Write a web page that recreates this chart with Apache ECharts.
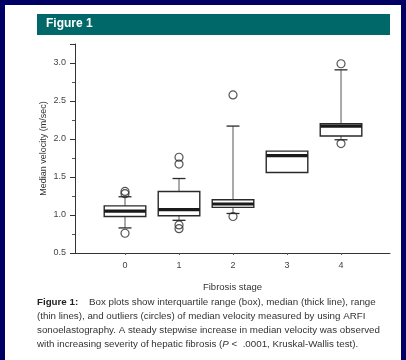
<!DOCTYPE html>
<html>
<head>
<meta charset="utf-8">
<script src="https://cdn.jsdelivr.net/npm/echarts@6/dist/echarts.min.js"></script>
<style>
html,body{margin:0;padding:0;background:#fff;}
#c{width:406px;height:360px;}
</style>
</head>
<body>
<div id="c"></div>
<script>
// ---- data ----
const stages   = [0, 1, 2, 3, 4];
const mins     = [0.83, 0.93, 1.02, 1.56, 1.99];
const q1s      = [0.98, 0.99, 1.10, 1.56, 2.04];
const medians  = [1.05, 1.07, 1.145, 1.78, 2.17];
const q3s      = [1.12, 1.31, 1.20, 1.84, 2.20];
const maxs     = [1.24, 1.48, 2.17, 1.84, 2.91];
const outlierStage = [0, 0, 0, 1, 1, 1, 1, 2, 2, 4, 4];
const outlierValue = [1.28, 1.31, 0.76, 1.76, 1.67, 0.87, 0.82, 2.58, 0.98, 2.99, 1.94];
const yMajorTicks = [0.5, 1.0, 1.5, 2.0, 2.5, 3.0, 3.25];
const yMinorTicks = [0.75, 1.25, 1.75, 2.25, 2.75];
const yLabels = ['0.5', '1.0', '1.5', '2.0', '2.5', '3.0'];
const xTicks = [0, 1, 2, 3, 4];
const xLabels = ['0', '1', '2', '3', '4'];

const boxRows = stages.map((s, i) => [s, mins[i], q1s[i], medians[i], q3s[i], maxs[i]]);
const outlierRows = outlierStage.map((s, i) => [s, outlierValue[i]]);

const BOX_W = 0.77, CAP_W = 0.24;
const INK = '#2a2a2a';
const FONT = '"Liberation Sans Narrow", "Liberation Sans", Arial, sans-serif';

function renderBox(params, api) {
  const x = api.value(0);
  const pMin = api.coord([x, api.value(1)]);
  const pQ1 = api.coord([x, api.value(2)]);
  const pMed = api.coord([x, api.value(3)]);
  const pQ3 = api.coord([x, api.value(4)]);
  const pMax = api.coord([x, api.value(5)]);
  const half = api.size([BOX_W, 0])[0] / 2;
  const capHalf = api.size([CAP_W, 0])[0] / 2;
  const cx = pMed[0];
  const ch = [];
  const lineStyle = {stroke: '#555', lineWidth: 1, fill: null};
  if (pMax[1] < pQ3[1] - 0.5) {
    ch.push({type: 'line', shape: {x1: cx, y1: pQ3[1], x2: cx, y2: pMax[1]}, style: lineStyle});
    ch.push({type: 'line', shape: {x1: cx - capHalf, y1: pMax[1], x2: cx + capHalf, y2: pMax[1]}, style: {stroke: INK, lineWidth: 1.3}});
  }
  if (pMin[1] > pQ1[1] + 0.5) {
    ch.push({type: 'line', shape: {x1: cx, y1: pQ1[1], x2: cx, y2: pMin[1]}, style: lineStyle});
    ch.push({type: 'line', shape: {x1: cx - capHalf, y1: pMin[1], x2: cx + capHalf, y2: pMin[1]}, style: {stroke: INK, lineWidth: 1.3}});
  }
  ch.push({type: 'rect', shape: {x: cx - half, y: pQ3[1], width: half * 2, height: pQ1[1] - pQ3[1]},
           style: {fill: '#fff', stroke: INK, lineWidth: 1.4}});
  ch.push({type: 'rect', shape: {x: cx - half, y: pMed[1] - 1.6, width: half * 2, height: 3.2},
           style: {fill: '#1a1a1a'}});
  return {type: 'group', children: ch};
}

const chart = echarts.init(document.getElementById('c'), null, {renderer: 'canvas'});
const axisFont = {color: '#444', fontSize: 9, fontFamily: 'Liberation Sans, Arial, sans-serif'};

chart.setOption({
  animation: false,
  backgroundColor: '#fff',
  grid: {left: 75, top: 44, width: 315, height: 209, containLabel: false},
  xAxis: {
    type: 'value', min: -0.926, max: 4.907,
    splitLine: {show: false},
    axisLine: {show: true, onZero: false, lineStyle: {color: '#333', width: 1}},
    axisTick: {show: true, customValues: xTicks, length: 2, lineStyle: {color: '#555'}},
    axisLabel: Object.assign({customValues: xTicks, margin: 8,
      formatter: v => xLabels[xTicks.indexOf(Math.round(v))] ?? ''}, axisFont),
    name: 'Fibrosis stage', nameLocation: 'middle', nameGap: 29, nameMoveOverlap: false,
    nameTextStyle: {color: '#333', fontSize: 9.5, fontFamily: 'Liberation Sans, Arial, sans-serif'}
  },
  yAxis: [{
    type: 'value', min: 0.5, max: 3.25,
    splitLine: {show: false},
    axisLine: {show: true, onZero: false, lineStyle: {color: '#333', width: 1}},
    axisTick: {show: true, inside: false, customValues: yMajorTicks, length: 5, lineStyle: {color: '#333'}},
    axisLabel: Object.assign({customValues: yMajorTicks.slice(0, 6), margin: 9,
      formatter: v => { const k = yMajorTicks.indexOf(v); return k >= 0 && k < yLabels.length ? yLabels[k] : ''; }}, axisFont),
    name: 'Median velocity (m/sec)', nameLocation: 'middle', nameGap: 27, nameMoveOverlap: false,
    nameTextStyle: {color: '#333', fontSize: 9, fontFamily: 'Liberation Sans, Arial, sans-serif'}
  }, {
    type: 'value', min: 0.5, max: 3.25, position: 'left',
    splitLine: {show: false},
    axisLine: {show: false, onZero: false},
    axisTick: {show: true, inside: false, customValues: yMinorTicks, length: 3, lineStyle: {color: '#555'}},
    axisLabel: {show: false}
  }],
  series: [{
    type: 'custom', renderItem: renderBox, data: boxRows,
    encode: {x: 0, y: [1, 2, 3, 4, 5]}, z: 2
  }, {
    type: 'scatter', data: outlierRows, symbol: 'circle', symbolSize: 8,
    itemStyle: {color: 'rgba(0,0,0,0)', borderColor: INK, borderWidth: 1.2}, z: 3
  }],
  graphic: [
    {type: 'rect', left: 0, top: 0, shape: {width: 406, height: 5}, style: {fill: '#000064'}},
    {type: 'rect', left: 0, top: 0, shape: {width: 5, height: 360}, style: {fill: '#000064'}},
    {type: 'rect', left: 401, top: 0, shape: {width: 5, height: 360}, style: {fill: '#000064'}},
    {type: 'rect', left: 37, top: 14, shape: {width: 353, height: 21}, style: {fill: '#006869'}},
    {type: 'text', left: 46, top: 18, style: {text: 'Figure 1', fill: '#fff',
      font: 'bold 12px ' + FONT}},
    {type: 'text', left: 37, top: 295, style: {
      text: '{b|Figure 1:}    Box plots show interquartile range (box), median (thick line), range\n' +
            '(thin lines), and outliers (circles) of median velocity measured by using ARFI\n' +
            'sonoelastography. A steady stepwise increase in median velocity was observed\n' +
            'with increasing severity of hepatic fibrosis ({i|P} <  .0001, Kruskal-Wallis test).',
      fill: '#333', lineHeight: 14,
      font: '9.75px ' + FONT,
      rich: {
        b: {fontWeight: 'bold', fontSize: 9.75, fill: '#222', fontFamily: FONT, lineHeight: 14},
        i: {fontStyle: 'italic', fontSize: 9.75, fill: '#333', fontFamily: FONT, lineHeight: 14}
      }
    }}
  ]
});
</script>
</body>
</html>
